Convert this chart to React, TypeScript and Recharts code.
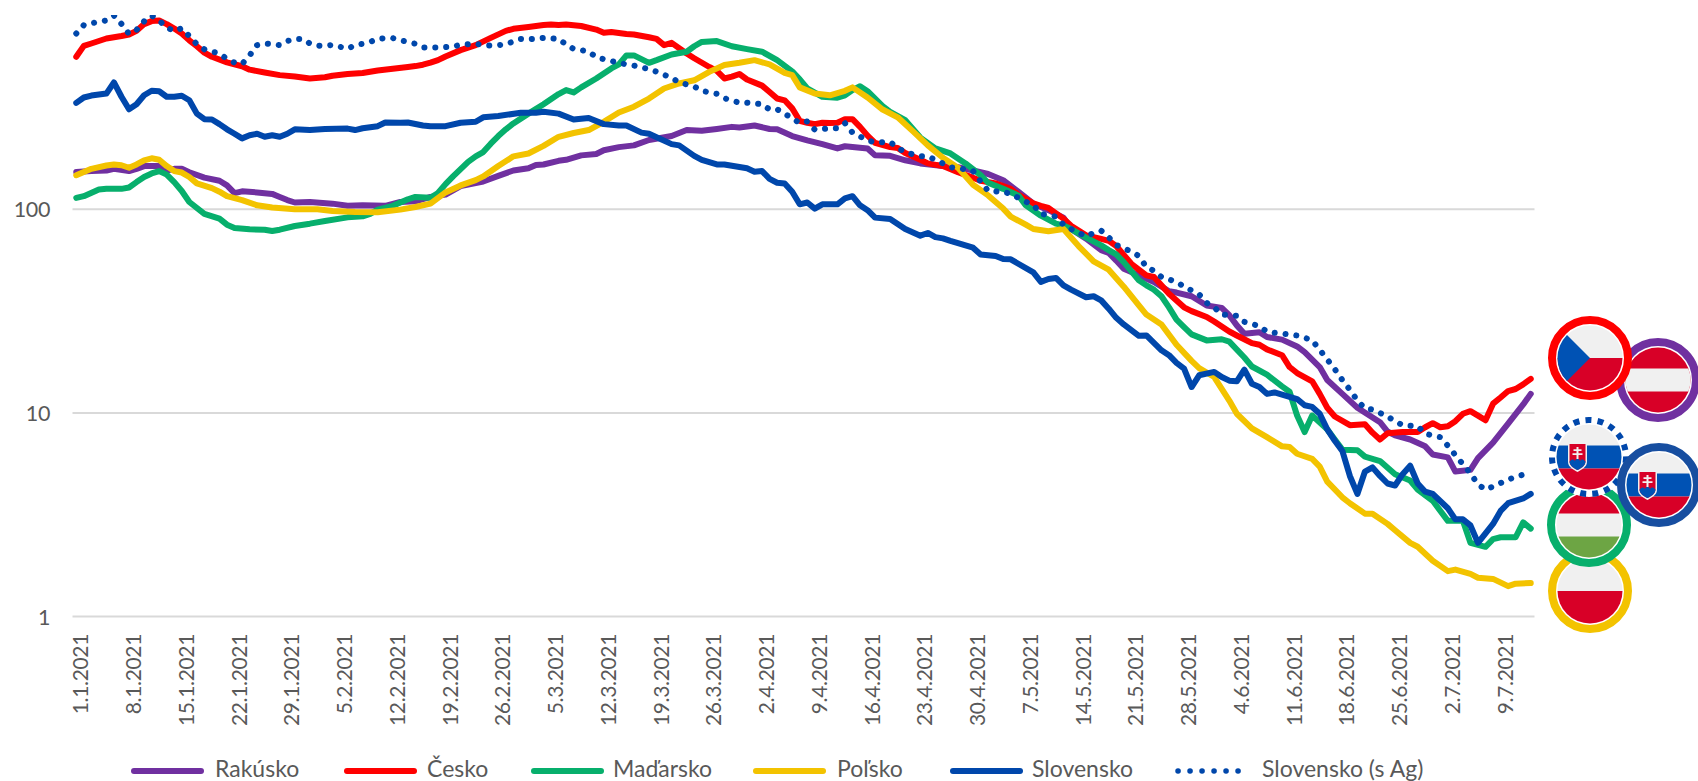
import React from "react";
import { LineChart, Line, XAxis, YAxis, CartesianGrid, Legend } from "recharts";

const tickDays = [0,7,14,21,28,35,42,49,56,63,70,77,84,91,98,105,112,119,126,133,140,147,154,161,168,175,182,189];
const tickLabels = ["1.1.2021","8.1.2021","15.1.2021","22.1.2021","29.1.2021","5.2.2021","12.2.2021","19.2.2021","26.2.2021","5.3.2021","12.3.2021","19.3.2021","26.3.2021","2.4.2021","9.4.2021","16.4.2021","23.4.2021","30.4.2021","7.5.2021","14.5.2021","21.5.2021","28.5.2021","4.6.2021","11.6.2021","18.6.2021","25.6.2021","2.7.2021","9.7.2021"];
const yTicks = [1, 10, 100];

const rakuskoDays = [0,2,4,5,7,8,9,11,12,13,14,15,17,19,20,21,22,24,26,27,28,29,31,34,36,38,41,43,45,47,49,51,54,56,58,60,61,62,64,65,67,69,70,72,74,76,79,81,83,85,87,88,90,92,93,95,97,99,101,102,105,106,108,110,112,115,117,119,121,123,125,127,129,131,132,134,136,137,138,139,141,143,145,146,148,150,152,153,154,155,157,158,160,162,163,165,166,168,170,173,174,175,177,179,180,182,183,185,186,188,190,192,193];
const rakuskoValues = [152.5,154,155,158,154,158,163,163,155,158,158,152,143,138,131,120,122.5,121,119,115,111,108,108.6,106.6,104,104.6,104,108.6,109.5,115,118,130,137,146,155,159,165,166,173,175,184,187,195,202,206,219,229,245,243,248,254,252,258,248,247,229,218,209,199,204,199,184,183,174,168,163,161,155,149,139,122,106.6,99,91,80,71.7,63,61,56,51,47.4,44,39.6,39,37.4,33.7,32.8,30.2,26.9,24.5,24.9,23.6,22.9,21.2,19.9,16.8,14.5,12.4,10.6,9,8.1,7.75,7.4,6.85,6.25,6.05,5.15,5.25,6,7.15,8.85,11,12.4];

const ceskoDays = [0,1,2,4,6,7,8,9,10,11,12,13,14,15,16,17,18,20,22,23,25,27,29,31,33,34,36,38,40,42,44,45,46,47,48,49,51,53,55,57,58,60,62,63,64,65,67,69,70,71,73,74,76,77,78,79,81,82,84,85,86,87,88,89,91,92,93,94,95,96,97,98,99,100,101,102,103,104,105,106,108,109,110,112,113,115,117,119,120,122,124,125,127,128,129,131,132,134,136,137,138,140,142,143,144,145,147,148,150,151,153,154,156,157,158,160,161,162,164,165,166,167,169,171,172,173,174,176,178,179,180,181,182,183,184,185,186,187,188,189,190,191,192,193];
const ceskoValues = [561,635,652,690,710,722,752,812,840,845,812,772,730,676,632,588,561,527,504,485,470,456,449,439,445,453,462,467,480,490,500,505,513,525,540,563,605,640,695,752,770,786,803,808,803,808,795,763,736,742,726,722,700,687,640,657,582,552,500,478,439,448,462,434,405,377,350,343,313,272,266,262,266,265,266,277,277,254,230,212,202,200,189,175,168,163,152,143,138,134,126,118,107,104,101.5,90,83,74.5,71.5,70,66,54,47.4,46.5,42.3,38.5,33,31.6,29.6,28.1,25.1,24,22,21.6,20.5,19.2,16.8,15.7,14.3,12.4,10.6,9.6,8.7,8.8,8,7.4,7.95,8.05,8.05,8.5,8.9,8.5,8.6,9.1,9.9,10.2,9.7,9.2,11.1,11.9,12.8,13.1,13.8,14.7];

const madarskoDays = [0,1,3,4,6,7,8,9,10,11,12,13,14,15,17,19,20,21,23,25,26,27,29,31,33,36,38,39,40,42,44,45,47,48,49,50,52,53,54,55,56,57,58,60,62,64,65,66,67,69,71,72,73,74,76,77,79,81,82,83,85,87,89,91,93,95,96,97,99,101,102,103,104,105,107,108,110,112,114,116,118,120,121,123,125,126,128,130,131,132,134,136,137,138,139,141,142,143,144,145,146,147,148,150,152,153,155,156,158,160,161,162,163,164,166,167,168,170,171,173,175,177,178,180,182,184,185,187,188,189,191,192,193];
const madarskoValues = [113.7,116,125,126,126,128,136,144,150,154,148,136,123,108.6,95,90,84,81,79.7,79.4,78.2,79.4,82.8,85,87.6,91.3,92.4,95,99.6,104,112,115,114,120.3,133,145,171,182,191,210,229,247,264,295,328,368,385,375,397,439,492,515,570,570,524,540,576,594,632,664,670,632,612,594,540,476,435,392,357,353,363,385,402,380,321,301,274,225,199,188,168,147,135,126,117,104.6,93,85,83.4,80,72.6,66.5,63,60,55,44.8,42.3,40.3,37.4,33,28.7,26.4,24.3,22.7,23,22.4,18.7,16.9,15.4,13.5,12.7,9.7,8.05,9.7,8.3,7.4,6.6,6.55,6.1,5.8,5,4.65,4.2,3.7,2.95,2.95,2.3,2.2,2.4,2.45,2.45,2.9,2.7];

const polskoDays = [0,2,4,5,6,7,8,9,10,11,12,13,14,15,16,18,19,20,22,24,26,29,32,34,37,40,43,45,47,49,51,53,54,56,58,60,62,64,66,68,70,72,74,76,78,80,82,84,86,88,90,92,94,95,96,98,100,102,103,105,107,109,111,113,115,117,119,121,123,124,126,127,129,131,133,135,137,139,141,142,144,146,148,149,151,153,154,156,158,160,161,162,164,165,166,168,169,171,172,174,175,177,178,180,182,183,185,186,188,190,191,193];
const polskoValues = [147,158,164,166,164.6,160,166,174,178,175,163,154,151.5,144,134,127,122,116,111,104.6,102,100,100,98,97,96.7,99.6,102.6,106.6,121,131,139,145,163,182,188,205,227,237,245,269,299,319,350,392,415,430,473,511,524,540,515,468,456,397,370,363,382,397,354,309,283,242,206,179,160,132,117,100.8,92,84,80,78,80,66,55.5,50.5,41.7,33.7,30.4,27.2,21.6,18,16.6,15,11.5,9.9,8.4,7.6,6.85,6.8,6.3,5.95,5.45,4.6,3.85,3.6,3.2,3.2,2.85,2.65,2.3,2.2,1.88,1.67,1.7,1.62,1.55,1.53,1.41,1.45,1.46];

const slovenskoDays = [0,1,2,4,5,6,7,8,9,10,11,12,13,14,15,16,17,18,19,20,21,22,23,24,25,26,27,28,29,31,33,36,37,38,40,41,43,44,46,47,49,51,53,54,56,59,61,62,64,66,68,70,72,73,75,76,79,80,82,83,85,86,89,90,91,92,93,94,95,96,97,98,99,101,102,103,104,105,106,108,110,112,113,114,115,116,119,120,122,123,124,125,127,128,129,130,131,132,134,135,136,137,138,139,141,142,144,145,146,147,148,149,151,152,153,154,155,156,157,158,159,161,162,163,164,165,166,167,168,169,170,171,172,173,174,175,176,177,178,179,180,182,183,184,185,186,188,189,190,192,193];
const slovenskoValues = [333,354,362,370,420,357,310,328,363,382,380,357,357,361,343,295,277,276,262,247,235,223,231,235,227,231,227,235,247,245,248,249,245,250,256,267,266,267,258,256,256,266,269,283,287,298,298,301,295,276,281,262,258,258,238,235,209,206,183,175,166,166,159,153,154,141,135,134,122,105.8,108,100.8,105.8,105.8,113,116,104.6,99,91,89.6,80,74.2,76.5,73,72,70,64.8,60,59,57,56.8,54,49,44,45.5,46,42.3,40.3,37,37.4,35.7,32.5,29.3,27.2,23.9,24,20.3,19.2,17.6,16.5,13.4,15.3,15.9,15,14.4,14.3,16.3,13.9,13.4,12.4,12.6,12,11.7,10.9,10.7,9.9,8.3,7.3,6.5,4.9,4,5.15,5.4,4.9,4.5,4.4,5,5.5,4.5,4.1,4,3.4,3,3,2.8,2.3,2.85,3.3,3.6,3.8,4];

const slovenskoAgDays = [0,1,2,3,4,5,6,7,8,9,10,11,12,13,14,15,16,17,18,19,20,21,22,23,24,25,26,27,28,29,30,31,32,33,34,35,36,37,38,39,40,41,42,43,44,45,46,48,50,51,53,54,56,57,59,60,62,64,65,66,68,69,71,72,74,76,77,79,80,82,83,85,86,88,89,91,92,93,95,96,97,98,100,101,102,103,105,106,108,109,110,112,113,115,116,118,119,120,121,123,124,126,127,128,130,131,132,134,135,136,137,138,140,141,142,143,144,146,147,149,150,151,152,154,155,157,158,160,162,163,164,165,166,167,168,169,170,171,172,174,175,176,178,179,181,182,183,184,185,186,187,188,190,191,193];
const slovenskoAgValues = [730,803,820,832,846,895,813,726,760,838,895,845,782,750,775,708,647,610,595,583,547,525,517,570,640,652,647,640,670,687,687,652,637,635,642,628,614,640,650,664,687,693,693,676,664,650,623,623,630,642,652,637,640,647,687,684,695,687,645,613,596,558,535,523,508,488,474,442,420,401,382,369,351,334,334,328,309,310,280,265,270,246,250,250,265,238,218,213,214,200,191,182,182,168,161,157,154,137,123,122,119,109,105,95,92,84,80,73.6,76.5,78.5,72.8,66.8,62,59,52,49.9,46.5,44,41.7,38.2,34.7,33,30.4,30,28,26.7,25,24.5,24,23.4,22.7,20.4,18.3,16.4,14.5,13,11.5,10.5,10.4,9.6,9.1,8.7,8.6,7.9,7.6,6.9,6.2,5.6,5.05,4.45,4.2,4.35,4.7,4.85,5.1];

const seriesList = [
  { key: "Rakúsko", days: rakuskoDays, values: rakuskoValues, color: "#7030A0", swatchX: 131, textX: 215 },
  { key: "Česko", days: ceskoDays, values: ceskoValues, color: "#FF0000", swatchX: 344, textX: 427 },
  { key: "Maďarsko", days: madarskoDays, values: madarskoValues, color: "#07AF6C", swatchX: 531, textX: 613 },
  { key: "Poľsko", days: polskoDays, values: polskoValues, color: "#F3C300", swatchX: 753, textX: 837 },
  { key: "Slovensko", days: slovenskoDays, values: slovenskoValues, color: "#0047AB", swatchX: 950, textX: 1032 },
  { key: "Slovensko (s Ag)", days: slovenskoAgDays, values: slovenskoAgValues, color: "#0047AB", swatchX: 1175, textX: 1262, dotted: true },
];

const rowMap = new Map<number, Record<string, number>>();
seriesList.forEach((s) => {
  s.days.forEach((d, i) => {
    const row = rowMap.get(d) || { day: d };
    row[s.key] = s.values[i];
    rowMap.set(d, row);
  });
});
const tableData = Array.from(rowMap.values()).sort((a, b) => a.day - b.day);

const FONT = "Lato, sans-serif";
const GREY = "#595959";

function XTick(props: any) {
  const { x, payload } = props;
  const label = tickLabels[tickDays.indexOf(payload.value)];
  const bx = x + 12;
  return (
    <text x={bx} y={634} transform={`rotate(-90 ${bx} 634)`} textAnchor="end" fontFamily={FONT} fontSize={21} letterSpacing={-0.35} fill={GREY}>
      {label}
    </text>
  );
}

function YTick(props: any) {
  const { y, payload } = props;
  return (
    <text x={50} y={y + 8} textAnchor="end" fontFamily={FONT} fontSize={21.5} letterSpacing={-0.4} fill={GREY}>
      {payload.value}
    </text>
  );
}

function LegendContent() {
  return (
    <svg width={1698} height={40} style={{ display: "block" }}>
      {seriesList.map((s) => (
        <g key={s.key}>
          <line
            x1={s.swatchX + 3}
            x2={s.swatchX + 70}
            y1={20}
            y2={20}
            stroke={s.color}
            strokeWidth={s.dotted ? 5.5 : 6}
            strokeLinecap="round"
            strokeDasharray={s.dotted ? "0.1 11.9" : undefined}
          />
          <text x={s.textX} y={26} fontFamily={FONT} fontSize={23} fill={GREY}>
            {s.key}
          </text>
        </g>
      ))}
    </svg>
  );
}

const R = "#D80027";
const W = "#F0F0F0";
const B = "#0052B4";
const G = "#6DA544";

function SkFlag({ id }: { id: string }) {
  return (
    <g clipPath={`url(#${id})`}>
      <rect x={-34} y={-34} width={68} height={68} fill={W} />
      <rect x={-34} y={-11.5} width={68} height={23} fill={B} />
      <rect x={-34} y={11.5} width={68} height={23} fill={R} />
      <path d="M-21 -14.5 H-2 V5 C-2 10 -8 13 -11.5 15 C-15 13 -21 10 -21 5 Z" fill={W} />
      <path d="M-19.5 -13 H-3.5 V4.5 C-3.5 9 -8.5 11.5 -11.5 13 C-14.5 11.5 -19.5 9 -19.5 4.5 Z" fill={R} />
      <path d="M-19.5 4.5 C-17 1.5 -15 2 -14 4 C-13 1 -10 1 -9 4 C-8 2 -6 1.5 -3.5 4.5 C-3.5 9 -8.5 11.5 -11.5 13 C-14.5 11.5 -19.5 9 -19.5 4.5 Z" fill={B} />
      <path d="M-12.5 -10 h2 v2.2 h3 v1.8 h-3 v2.2 h4 v1.8 h-4 v4 h-2 v-4 h-4 v-1.8 h4 v-2.2 h-3 v-1.8 h3 Z" fill={W} />
    </g>
  );
}

function Flags() {
  const ring = (color: string) => <circle r={38} fill="#fff" stroke={color} strokeWidth={8} />;
  return (
    <svg width={1698} height={781} style={{ position: "absolute", left: 0, top: 0, pointerEvents: "none" }}>
      <defs>
        {["pl", "hu", "sk1", "sk2", "at", "cz"].map((id) => (
          <clipPath id={id} key={id}>
            <circle r={32.5} />
          </clipPath>
        ))}
      </defs>
      <g transform="translate(1590,591)">
        {ring("#F3C300")}
        <g clipPath="url(#pl)">
          <rect x={-34} y={-34} width={68} height={34} fill={W} />
          <rect x={-34} y={0} width={68} height={34} fill={R} />
        </g>
      </g>
      <g transform="translate(1589,525)">
        {ring("#07AF6C")}
        <g clipPath="url(#hu)">
          <rect x={-34} y={-34} width={68} height={68} fill={W} />
          <rect x={-34} y={-34} width={68} height={22.5} fill={R} />
          <rect x={-34} y={11.5} width={68} height={23} fill={G} />
        </g>
      </g>
      <g transform="translate(1589,457)">
        <circle r={40} fill="#fff" />
        <circle r={37} fill="none" stroke="#0047AB" strokeWidth={6} strokeDasharray="6 6.18" />
        <SkFlag id="sk1" />
      </g>
      <g transform="translate(1659,485)">
        {ring("#174EA0")}
        <SkFlag id="sk2" />
      </g>
      <g transform="translate(1658,380)">
        {ring("#7030A0")}
        <g clipPath="url(#at)">
          <rect x={-34} y={-34} width={68} height={68} fill={R} />
          <rect x={-34} y={-11.5} width={68} height={23} fill={W} />
        </g>
      </g>
      <g transform="translate(1590,358)">
        {ring("#FF0000")}
        <g clipPath="url(#cz)">
          <rect x={-34} y={-34} width={68} height={34} fill={W} />
          <rect x={-34} y={0} width={68} height={34} fill={R} />
          <path d="M-34 -34 L0 0 L-34 34 Z" fill={B} />
        </g>
      </g>
    </svg>
  );
}

export default function App() {
  return (
    <div style={{ position: "absolute", left: 0, top: 0, width: 1698, height: 781, background: "#fff" }}>
      <LineChart
        width={1698}
        height={781}
        data={tableData}
        margin={{ top: 15, right: 163.5, bottom: 0, left: 0 }}
      >
        <CartesianGrid horizontal vertical={false} stroke="#D9D9D9" strokeWidth={2} syncWithTicks horizontalValues={yTicks} />
        <XAxis
          dataKey="day"
          type="number"
          domain={[-0.5, 193.5]}
          ticks={tickDays}
          interval={0}
          height={164.5}
          axisLine={false}
          tickLine={false}
          tick={<XTick />}
        />
        <YAxis
          scale="log"
          domain={[1, 900]}
          ticks={yTicks}
          allowDataOverflow
          width={72.5}
          axisLine={false}
          tickLine={false}
          interval={0}
          tick={<YTick />}
        />
        {seriesList.map((s) => (
          <Line
            key={s.key}
            dataKey={s.key}
            type="linear"
            stroke={s.color}
            strokeWidth={6}
            strokeLinecap="round"
            strokeLinejoin="round"
            strokeDasharray={s.dotted ? "0.1 10.8" : undefined}
            dot={false}
            activeDot={false}
            connectNulls
            isAnimationActive={false}
          />
        ))}
        <Legend
          verticalAlign="middle"
          layout="horizontal"
          wrapperStyle={{ position: "absolute", left: 0, top: 751, width: 1698, height: 40 }}
          content={<LegendContent />}
        />
      </LineChart>
      <Flags />
    </div>
  );
}
